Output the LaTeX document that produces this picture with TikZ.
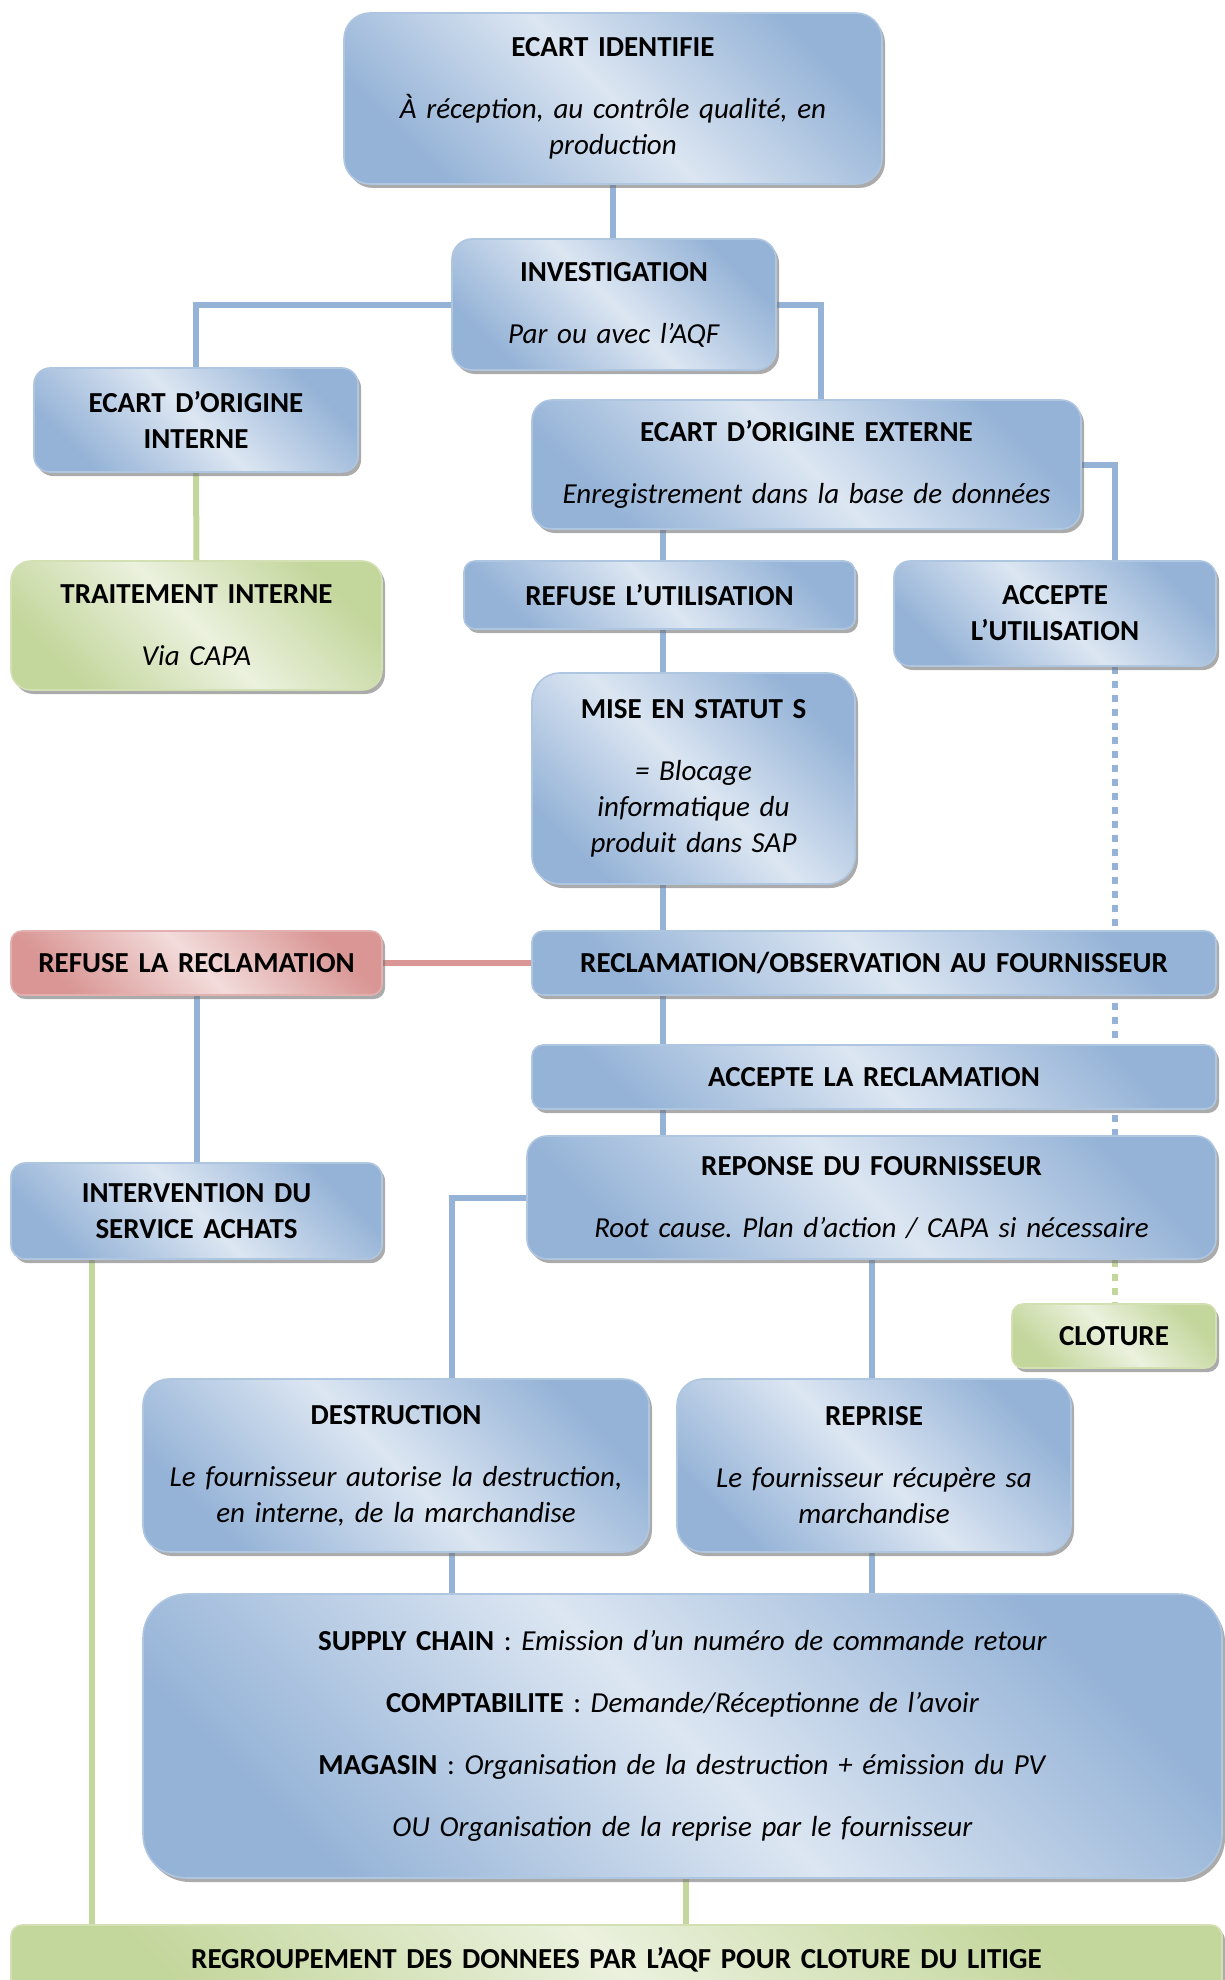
\documentclass[tikz,border=0pt]{standalone}
\usepackage{fontspec}
\setmainfont{Carlito}
\usetikzlibrary{shadows,backgrounds}
\definecolor{bdark}{HTML}{95B3D7}
\definecolor{blight}{HTML}{DCE6F2}
\definecolor{rdark}{HTML}{D99694}
\definecolor{rlight}{HTML}{F2DCDB}
\definecolor{gdark}{HTML}{C3D69B}
\definecolor{glight}{HTML}{EBF1DE}
\pgfdeclarehorizontalshading{bshade}{100bp}{color(0bp)=(bdark); color(25bp)=(bdark); color(50bp)=(blight); color(75bp)=(bdark); color(100bp)=(bdark)}
\pgfdeclarehorizontalshading{rshade}{100bp}{color(0bp)=(rdark); color(25bp)=(rdark); color(50bp)=(rlight); color(75bp)=(rdark); color(100bp)=(rdark)}
\pgfdeclarehorizontalshading{gshade}{100bp}{color(0bp)=(gdark); color(25bp)=(gdark); color(50bp)=(glight); color(75bp)=(gdark); color(100bp)=(gdark)}
\tikzset{
  base/.style={inner sep=0pt, align=center, font=\fontsize{29}{36}\selectfont\frenchspacing,
    line width=1.6pt, shading angle=45,
    drop shadow={shadow xshift=3pt, shadow yshift=-4pt, fill=black!55, opacity=0.6}},
  bbox/.style={base, shade, shading=bshade, draw=bdark!75!white},
  rbox/.style={base, shade, shading=rshade, draw=rdark!75!white},
  gbox/.style={base, shade, shading=gshade, draw=gdark!75!white},
  bl/.style={line width=6pt, draw=bdark},
  gl/.style={line width=6pt, draw=gdark},
  rl/.style={line width=6pt, draw=rdark},
  bdot/.style={line width=6pt, draw=bdark, dash pattern=on 7pt off 7pt},
  gdot/.style={line width=6pt, draw=gdark, dash pattern=on 7pt off 7pt},
}
\newcommand\bx[7]{%
  \pgfmathsetmacro\bw{#4-#2}\pgfmathsetmacro\bh{#5-#3}%
  \pgfmathsetmacro\tw{#4-#2-16}%
  \pgfmathsetmacro\bcx{(#2+#4)/2}\pgfmathsetmacro\bcy{(#3+#5)/2}%
  \node[#6, minimum width=\bw pt, minimum height=\bh pt, text width=\tw pt] (#1) at (\bcx,\bcy) {#7};}
\begin{document}
\begin{tikzpicture}[x=1pt,y=-1pt]
\useasboundingbox (0,0) rectangle (1224,1980);
\bx{ident}{344}{13}{882}{184}{bbox, rounded corners=26pt}{\textbf{ECART IDENTIFIE}\\[26pt]\textit{À réception, au contrôle qualité, en}\\\textit{production}}
\bx{invest}{452}{239}{776}{370}{bbox, rounded corners=20pt}{\textbf{INVESTIGATION}\\[26pt]\textit{Par ou avec l’AQF}}
\bx{intern}{34}{368}{358}{472}{bbox, rounded corners=16pt}{\textbf{ECART D’ORIGINE}\\\textbf{INTERNE}}
\bx{ext}{532}{400}{1081}{529}{bbox, rounded corners=20pt}{\textbf{ECART D’ORIGINE EXTERNE}\\[26pt]\textit{Enregistrement dans la base de données}}
\bx{trait}{11}{561}{382}{690}{gbox, rounded corners=20pt}{\textbf{TRAITEMENT INTERNE}\\[26pt]\textit{Via CAPA}}
\bx{refu}{464}{561}{855}{629}{bbox, rounded corners=11pt}{\textbf{REFUSE L’UTILISATION}}
\bx{accu}{894}{561}{1216}{666}{bbox, rounded corners=16pt}{\textbf{ACCEPTE}\\\textbf{L’UTILISATION}}
\bx{mise}{532}{673}{855}{884}{bbox, rounded corners=28pt}{\textbf{MISE EN STATUT S}\\[26pt]\textit{= Blocage}\\\textit{informatique du}\\\textit{produit dans SAP}}
\bx{refrec}{11}{931}{382}{995}{rbox, rounded corners=11pt}{\textbf{REFUSE LA RECLAMATION}}
\bx{reclam}{532}{931}{1216}{995}{bbox, rounded corners=11pt}{\textbf{RECLAMATION/OBSERVATION AU FOURNISSEUR}}
\bx{accrec}{532}{1045}{1216}{1109}{bbox, rounded corners=11pt}{\textbf{ACCEPTE LA RECLAMATION}}
\bx{interv}{11}{1163}{382}{1259}{bbox, rounded corners=14pt}{\textbf{INTERVENTION DU}\\\textbf{SERVICE ACHATS}}
\bx{rep}{527}{1136}{1216}{1259}{bbox, rounded corners=20pt}{\textbf{REPONSE DU FOURNISSEUR}\\[26pt]\textit{Root cause. Plan d’action / CAPA si nécessaire}}
\bx{clot}{1012}{1304}{1216}{1368}{gbox, rounded corners=11pt}{\textbf{CLOTURE}}
\bx{destr}{143}{1379}{649}{1552}{bbox, rounded corners=26pt}{\textbf{DESTRUCTION}\\[26pt]\textit{Le fournisseur autorise la destruction,}\\\textit{en interne, de la marchandise}}
\bx{repr}{677}{1379}{1071}{1552}{bbox, rounded corners=26pt}{\textbf{REPRISE}\\[26pt]\textit{Le fournisseur récupère sa}\\\textit{marchandise}}
\bx{big}{143}{1594}{1222}{1878}{bbox, rounded corners=44pt}{\textbf{SUPPLY CHAIN} : \textit{Emission d’un numéro de commande retour}\\[26pt]\textbf{COMPTABILITE} : \textit{Demande/Réceptionne de l’avoir}\\[26pt]\textbf{MAGASIN} : \textit{Organisation de la destruction + émission du PV}\\[26pt]\textit{OU Organisation de la reprise par le fournisseur}}
\bx{regr}{11}{1925}{1222}{2012}{gbox, rounded corners=11pt}{\raisebox{22pt}{\textbf{REGROUPEMENT DES DONNEES PAR L’AQF POUR CLOTURE DU LITIGE}}}
\coordinate (v0) at (663,0);
\coordinate (v1) at (452,0);
\coordinate (v2) at (872,0);
\coordinate (v3) at (92,0);
\coordinate (v4) at (686,0);
\coordinate (v5) at (1115,0);
\begin{scope}[on background layer]
\draw[bl] (ident.south) -- (ident.south |- invest.north);
\draw[bl] (invest.west) -| (intern.north);
\draw[bl] (invest.east) -| ([xshift=14pt]ext.north);
\draw[gl] (intern.south) -- (trait.north);
\draw[bl] (ext.east) -| (accu.north -| v5);
\draw[bl] (ext.south -| v0) -- (rep.north -| v0);
\draw[rl] (refrec.east) -- (reclam.west);
\draw[bl] (refrec.south) -- (interv.north);
\draw[gl] (interv.south -| v3) -- (regr.north -| v3);
\draw[bl] (rep.west) -| (destr.north -| v1);
\draw[bl] (rep.south -| v2) -- (repr.north -| v2);
\draw[bl] (destr.south -| v1) -- (big.north -| v1);
\draw[bl] (repr.south -| v2) -- (big.north -| v2);
\draw[gl] (big.south -| v4) -- (regr.north -| v4);
\draw[bdot] (accu.south -| v5) -- (rep.south -| v5);
\draw[gdot] (rep.south -| v5) -- (clot.north -| v5);
\end{scope}
\end{tikzpicture}
\end{document}
